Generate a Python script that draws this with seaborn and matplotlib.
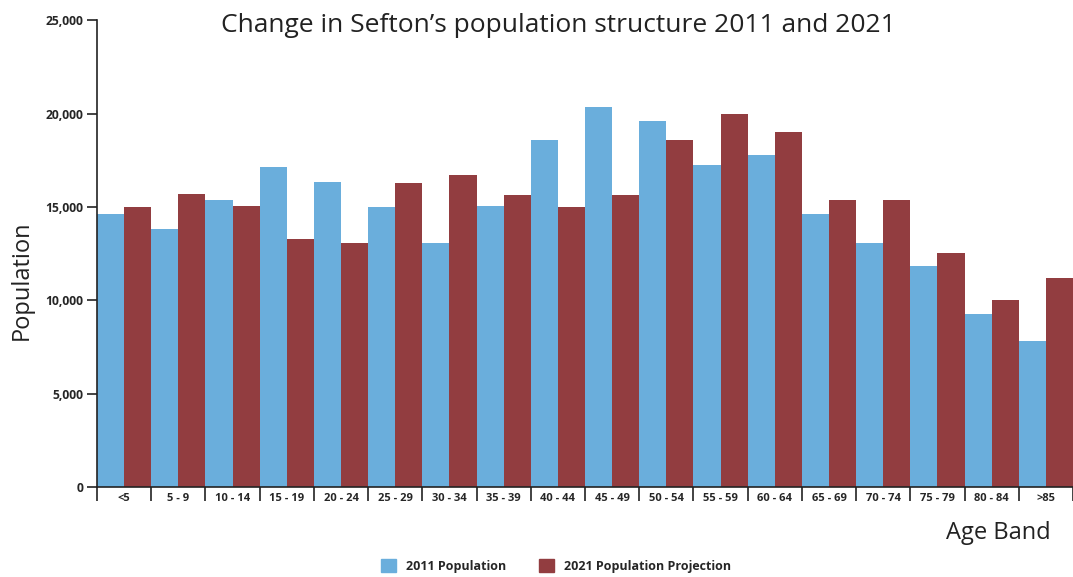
import numpy as np
import pandas as pd
import matplotlib
matplotlib.use('Agg')
import matplotlib.pyplot as plt
import seaborn as sns
from matplotlib.ticker import FuncFormatter, FixedLocator

# Data
age_bands = ['<5', '5 - 9', '10 - 14', '15 - 19', '20 - 24', '25 - 29', '30 - 34',
             '35 - 39', '40 - 44', '45 - 49', '50 - 54', '55 - 59', '60 - 64',
             '65 - 69', '70 - 74', '75 - 79', '80 - 84', '>85']
pop_2011 = [14610, 13810, 15360, 17130, 16330, 14990, 13060, 15040, 18580,
            20340, 19590, 17240, 17770, 14610, 13060, 11830, 9260, 7820]
pop_2021 = [14990, 15690, 15040, 13280, 13060, 16270, 16700, 15630, 14990,
            15630, 18580, 19970, 19000, 15360, 15360, 12530, 10010, 11190]
series_names = ['2011 Population', '2021 Population Projection']
colors = ['#6AAEDC', '#923D40']

df = pd.DataFrame({
    'Age Band': age_bands * 2,
    'Population': pop_2011 + pop_2021,
    'Series': [series_names[0]] * len(age_bands) + [series_names[1]] * len(age_bands),
})

sns.set_style('white')
plt.rcParams['font.family'] = ['Open Sans', 'DejaVu Sans']

fig = plt.figure(figsize=(10.73, 5.77), dpi=100)
ax = fig.add_axes([0.0904, 0.156, 0.9096, 0.809])

sns.barplot(data=df, x='Age Band', y='Population', hue='Series',
            palette=colors, width=1.0, gap=0, saturation=1,
            linewidth=0, ax=ax)

ax.set_xlim(-0.5, len(age_bands) - 0.5)
ax.set_ylim(0, 25000)

# y axis
ax.set_yticks([0, 5000, 10000, 15000, 20000, 25000])
ax.yaxis.set_major_formatter(FuncFormatter(lambda v, p: f'{int(v):,}'))
ax.tick_params(axis='y', direction='out', length=7, width=1.2, color='#222222',
               labelsize=8.7, pad=3, left=True)
for lab in ax.get_yticklabels():
    lab.set_fontweight('bold')

# x axis: tick marks at group boundaries, labels centred
ax.xaxis.set_major_locator(FixedLocator(np.arange(-0.5, len(age_bands), 1.0)))
ax.set_xticklabels([''] * (len(age_bands) + 1))
ax.xaxis.set_minor_locator(FixedLocator(np.arange(len(age_bands))))
ax.set_xticks(np.arange(len(age_bands)), labels=age_bands, minor=True)
ax.tick_params(axis='x', which='major', direction='out', length=10, width=1.2,
               color='#222222', bottom=True)
ax.tick_params(axis='x', which='minor', length=0, labelsize=8, pad=4)
for lab in ax.get_xticklabels(minor=True):
    lab.set_fontweight('bold')

for s in ['top', 'right']:
    ax.spines[s].set_visible(False)
for s in ['left', 'bottom']:
    ax.spines[s].set_color('#222222')
    ax.spines[s].set_linewidth(1.2)

ax.set_xlabel('')
ax.set_ylabel('')
fig.text(0.020, 0.515, 'Population', rotation=90, fontsize=17, color='#222222',
         ha='center', va='center')
fig.text(0.930, 0.077, 'Age Band', fontsize=17, color='#222222',
         ha='center', va='center')
fig.text(0.520, 0.955, 'Change in Sefton\u2019s population structure 2011 and 2021',
         fontsize=19, color='#222222', ha='center', va='center')

ax.legend_.remove()
handles = [plt.Rectangle((0, 0), 1, 1, color=c) for c in colors]
fig.legend(handles, series_names, loc='lower center', bbox_to_anchor=(0.518, -0.012),
           ncol=2, frameon=False, prop={'size': 9, 'weight': 'bold'},
           handlelength=1.2, handleheight=1.2, columnspacing=2.6, handletextpad=0.8)

fig.savefig('out.png', dpi=100)
